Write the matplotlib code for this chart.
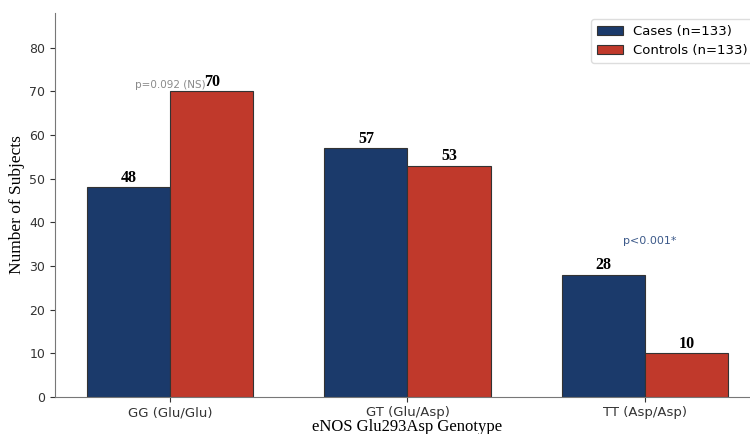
import matplotlib
matplotlib.use("Agg")
import matplotlib.pyplot as plt
import numpy as np

# -----------------------------
# Data
# -----------------------------
genotypes = ["GG (Glu/Glu)", "GT (Glu/Asp)", "TT (Asp/Asp)"]
cases = [48, 57, 28]
controls = [70, 53, 10]
p_labels = ["p=0.092 (NS)", None, "p<0.001*"]
p_colors = ["#8a8a8a", None, "#3d5a8a"]

case_color = "#1b3a6b"
ctrl_color = "#c0392b"

# -----------------------------
# Plot
# -----------------------------
fig = plt.figure(figsize=(7.5, 4.34), dpi=100)
ax = fig.add_axes([0.0733, 0.0853, 0.94, 0.885])

x = np.arange(len(genotypes))
w = 0.35
b1 = ax.bar(x - w/2, cases, w, color=case_color, edgecolor="#333333", linewidth=0.8,
            label="Cases (n=133)")
b2 = ax.bar(x + w/2, controls, w, color=ctrl_color, edgecolor="#333333", linewidth=0.8,
            label="Controls (n=133)")

for bars in (b1, b2):
    for rect in bars:
        h = rect.get_height()
        ax.text(rect.get_x() + rect.get_width()/2, h + 0.3, f"{int(h)}",
                ha="center", va="bottom", fontsize=11.5, fontweight="bold",
                family="Liberation Serif")

# p-value notes
ax.text(x[0], 70.4, p_labels[0], ha="center", va="bottom", fontsize=7.5, color=p_colors[0])
ax.text(x[2] + 0.02, 34.5, p_labels[2], ha="center", va="bottom", fontsize=8, color=p_colors[2])

ax.set_xticks(x)
ax.set_xticklabels(genotypes, fontsize=9.5, color="#333333")
ax.set_xlim(-0.485, 2.485)
ax.set_ylim(0, 88)
ax.set_yticks(range(0, 90, 10))
ax.tick_params(axis="y", labelsize=9, colors="#333333")
ax.tick_params(axis="x", colors="#333333", pad=3)

ax.set_xlabel("eNOS Glu293Asp Genotype", fontsize=12, family="Liberation Serif", labelpad=0)
ax.set_ylabel("Number of Subjects", fontsize=12.5, family="Liberation Serif", labelpad=3)

ax.spines["top"].set_visible(False)
ax.spines["right"].set_visible(False)
ax.spines["left"].set_color("#777777")
ax.spines["bottom"].set_color("#777777")

ax.legend(loc="upper right", fontsize=9.5, frameon=True, framealpha=1, edgecolor="#dddddd")

fig.savefig("out.png", dpi=100)
